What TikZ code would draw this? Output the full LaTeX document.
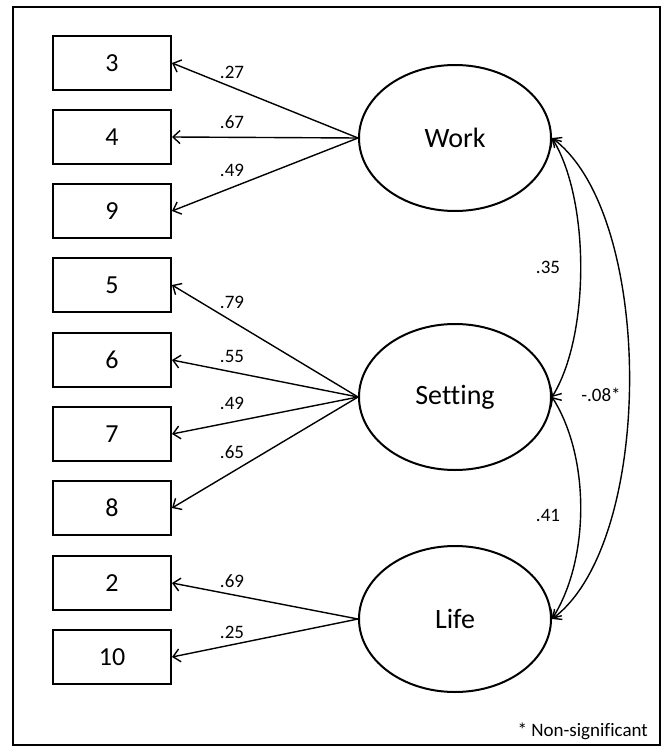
\documentclass[tikz,border=0pt]{standalone}
\usepackage{fontspec}
\setmainfont[RawFeature={-liga;-clig;-dlig;-calt}]{Carlito}
\usetikzlibrary{shapes.geometric,arrows.meta}
\begin{document}
\begin{tikzpicture}[x=1pt,y=-1pt,
  indicator/.style={draw,line width=2pt,minimum width=118pt,minimum height=54pt,
    inner sep=0pt,font=\fontsize{26}{26}\selectfont},
  factor/.style={draw,ellipse,line width=2pt,minimum width=192pt,minimum height=146pt,
    inner sep=0pt,font=\fontsize{28}{28}\selectfont},
  barb/.tip={Straight Barb[length=7pt,width=13pt,line width=1.4pt]},
  loading/.style={line width=1.4pt,-barb},
  covar/.style={line width=1.4pt,barb-barb},
  coef/.style={font=\fontsize{19}{19}\selectfont,inner sep=0pt},
]
\useasboundingbox (0,0) rectangle (665,746);
% outer frame
\draw[line width=2pt] (13,7) rectangle (660,745);

% observed indicators
\node[indicator] (i3)  at (112,63)  {3};
\node[indicator] (i4)  at (112,137) {4};
\node[indicator] (i9)  at (112,211) {9};
\node[indicator] (i5)  at (112,285) {5};
\node[indicator] (i6)  at (112,360) {6};
\node[indicator] (i7)  at (112,434) {7};
\node[indicator] (i8)  at (112,508) {8};
\node[indicator] (i2)  at (112,583) {2};
\node[indicator] (i10) at (112,657) {10};

% latent factors
\node[factor] (work)    at (455,138) {Work};
\node[factor] (setting) at (455,397) {Setting};
\node[factor] (life)    at (455,619) {Life};

% factor loadings
\draw[loading] (work.west) -- (i3.east);
\draw[loading] (work.west) -- (i4.east);
\draw[loading] (work.west) -- (i9.east);
\draw[loading] (setting.west) -- (i5.east);
\draw[loading] (setting.west) -- (i6.east);
\draw[loading] (setting.west) -- (i7.east);
\draw[loading] (setting.west) -- (i8.east);
\draw[loading] (life.west) -- (i2.east);
\draw[loading] (life.west) -- (i10.east);

\node[coef] (l3)  at (232,72)  {.27};
\node[coef] (l4)  at (232,122) {.67};
\node[coef] (l9)  at (232,170) {.49};
\node[coef] (l5)  at (232,302) {.79};
\node[coef] (l6)  at (232,356) {.55};
\node[coef] (l7)  at (232,403) {.49};
\node[coef] (l8)  at (232,452) {.65};
\node[coef] (l2)  at (232,581) {.69};
\node[coef] (l10) at (232,632) {.25};

% factor covariances
\draw[covar] (work.east) .. controls (590,200) and (590,335) .. (setting.east);
\draw[covar] (setting.east) .. controls (590,457) and (590,559) .. (life.east);
\draw[covar] (work.east) .. controls (655,215) and (655,542) .. (life.east);

\node[coef] (c1) at (548,267) {.35};
\node[coef] (c2) at (548,515) {.41};
\node[coef] (c3) at (601,395) {-.08*};

% note
\node[coef,anchor=east] (note) at (648,731) {* Non-significant};
\end{tikzpicture}
\end{document}
